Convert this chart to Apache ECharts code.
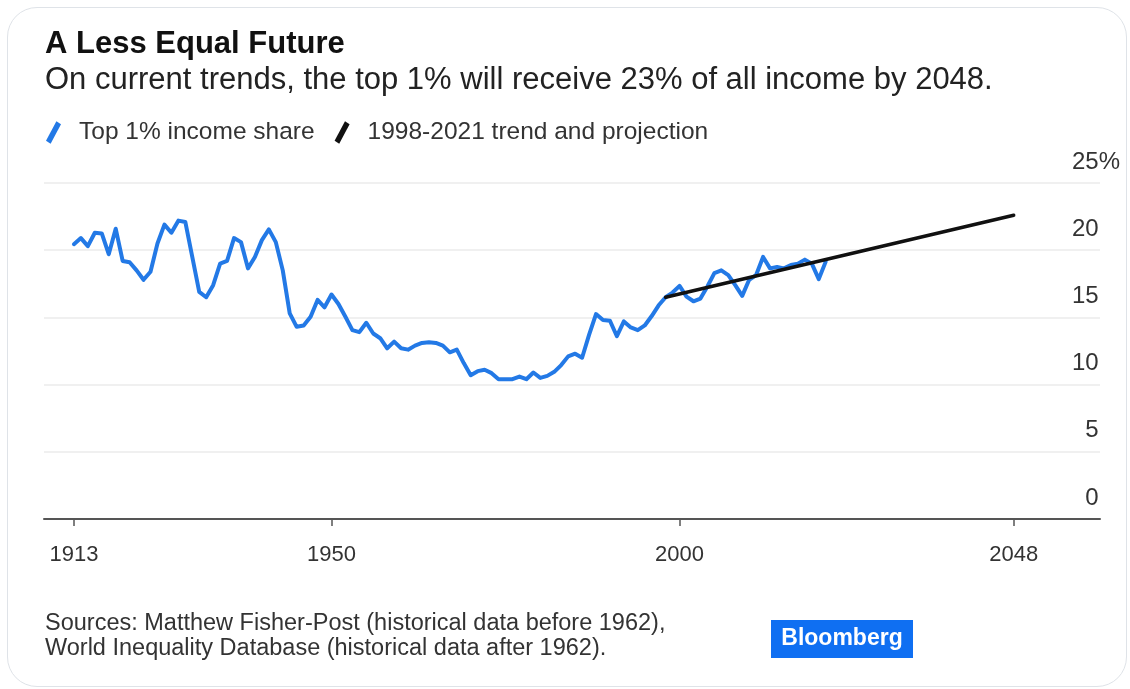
<!DOCTYPE html>
<html><head><meta charset="utf-8">
<script src="https://cdn.jsdelivr.net/npm/echarts@6/dist/echarts.min.js"></script>
<style>
html,body{margin:0;padding:0;background:#fff;}
#card{position:absolute;left:7px;top:7px;width:1118px;height:678px;border:1.5px solid #dfe3e8;border-radius:30px;}
#chart{position:absolute;left:0;top:0;width:1130px;height:689px;}
</style></head>
<body><div id="card"></div><div id="chart"></div>
<script>
const years = [1913,1914,1915,1916,1917,1918,1919,1920,1921,1922,1923,1924,1925,1926,1927,1928,1929,
1930,1931,1932,1933,1934,1935,1936,1937,1938,1939,1940,1941,1942,1943,1944,1945,1946,1947,1948,1949,
1950,1951,1952,1953,1954,1955,1956,1957,1958,1959,1960,1961,1962,1963,1964,1965,1966,1967,1968,1969,
1970,1971,1972,1973,1974,1975,1976,1977,1978,1979,1980,1981,1982,1983,1984,1985,1986,1987,1988,1989,
1990,1991,1992,1993,1994,1995,1996,1997,1998,1999,2000,2001,2002,2003,2004,2005,2006,2007,2008,2009,
2010,2011,2012,2013,2014,2015,2016,2017,2018,2019,2020,2021];
const topShare = [20.45,20.9,20.3,21.3,21.25,19.7,21.6,19.2,19.1,18.5,17.8,18.4,20.5,21.9,21.3,22.2,22.1,
19.5,16.9,16.5,17.4,19.0,19.2,20.9,20.6,18.65,19.5,20.75,21.55,20.6,18.5,15.3,14.3,14.4,15.05,16.3,15.75,
16.7,16.0,15.05,14.05,13.9,14.6,13.8,13.45,12.7,13.2,12.7,12.6,12.9,13.1,13.15,13.1,12.9,12.4,12.6,11.6,
10.7,11.0,11.1,10.85,10.4,10.4,10.4,10.6,10.4,10.9,10.5,10.65,10.95,11.45,12.1,12.3,12.0,13.7,15.25,14.8,
14.75,13.6,14.7,14.25,14.05,14.4,15.1,15.9,16.5,16.85,17.35,16.55,16.2,16.4,17.3,18.3,18.5,18.15,17.4,16.6,
17.8,18.15,19.5,18.65,18.75,18.65,18.9,19.0,19.3,19.0,17.85,19.15];
const trendYears = [1998, 2048];
const trendValues = [16.5, 22.6];
const xTickYears = [1913, 1950, 2000, 2048];
const yTicks = [0, 5, 10, 15, 20, 25];

const BLUE = '#2379e6';
const slash = 'path://M0,17 L9,0 L13,2.5 L4,19.5 Z';
const chart = echarts.init(document.getElementById('chart'));
chart.setOption({
  animation: false,
  textStyle: { fontFamily: 'Liberation Sans, Arial, sans-serif' },
  title: [
    { text: 'A Less Equal Future', left: 40, top: 24, textStyle: { fontSize: 31, fontWeight: 'bold', color: '#111' } },
    { text: 'On current trends, the top 1% will receive 23% of all income by 2048.', left: 40, top: 60,
      textStyle: { fontSize: 31, fontWeight: 'normal', color: '#222' } },
    { text: 'Sources: Matthew Fisher-Post (historical data before 1962),\nWorld Inequality Database (historical data after 1962).',
      left: 40, top: 606, textStyle: { fontSize: 23.5, lineHeight: 25, fontWeight: 'normal', color: '#333' } }
  ],
  legend: {
    left: 41, top: 115, itemWidth: 15, itemHeight: 23, itemGap: 20, selectedMode: false,
    textStyle: { fontSize: 24.5, color: '#333', padding: [0, 0, 0, 13] },
    data: [{ name: 'Top 1% income share', icon: slash }, { name: '1998-2021 trend and projection', icon: slash }]
  },
  grid: { left: 44, right: 30, top: 183, bottom: 170 },
  xAxis: {
    type: 'value', min: 1908.7, max: 2060.4,
    axisLine: { lineStyle: { color: '#555', width: 2 } },
    axisTick: { customValues: xTickYears, length: 7, lineStyle: { color: '#555', width: 1.5 } },
    axisLabel: { customValues: xTickYears, fontSize: 22, color: '#333', margin: 25, formatter: v => String(v) },
    splitLine: { show: false }
  },
  yAxis: {
    type: 'value', position: 'right', min: 0, max: 25, interval: 5,
    axisLine: { show: false }, axisTick: { show: false },
    splitLine: { lineStyle: { color: '#ebebeb', width: 1.5 } },
    axisLabel: {
      fontSize: 24, color: '#333', align: 'right', margin: 20, verticalAlign: 'bottom', padding: [0, 0, 9, 0],
      formatter: v => (v === yTicks[yTicks.length - 1] ? v + '{p|%}' : v + '{h|%}'),
      rich: { p: { fontSize: 24, color: '#333' }, h: { fontSize: 24, color: 'rgba(0,0,0,0)' } }
    }
  },
  graphic: [
    { type: 'rect', left: 771, top: 620, shape: { width: 142, height: 38 }, style: { fill: '#0f6ff2' } },
    { type: 'text', x: 842, y: 639, style: { text: 'Bloomberg', fill: '#fff', font: 'bold 23px Liberation Sans, Arial, sans-serif', textAlign: 'center', textVerticalAlign: 'middle' } }
  ],
  series: [
    { name: 'Top 1% income share', type: 'line', symbol: 'none', z: 2,
      data: years.map((y, i) => [y, topShare[i]]),
      itemStyle: { color: BLUE }, lineStyle: { width: 4, color: BLUE, join: 'round', cap: 'round' } },
    { name: '1998-2021 trend and projection', type: 'line', symbol: 'none', z: 3,
      data: trendYears.map((y, i) => [y, trendValues[i]]),
      itemStyle: { color: '#111' }, lineStyle: { width: 3.5, color: '#111', cap: 'round' } }
  ]
});
</script></body></html>
